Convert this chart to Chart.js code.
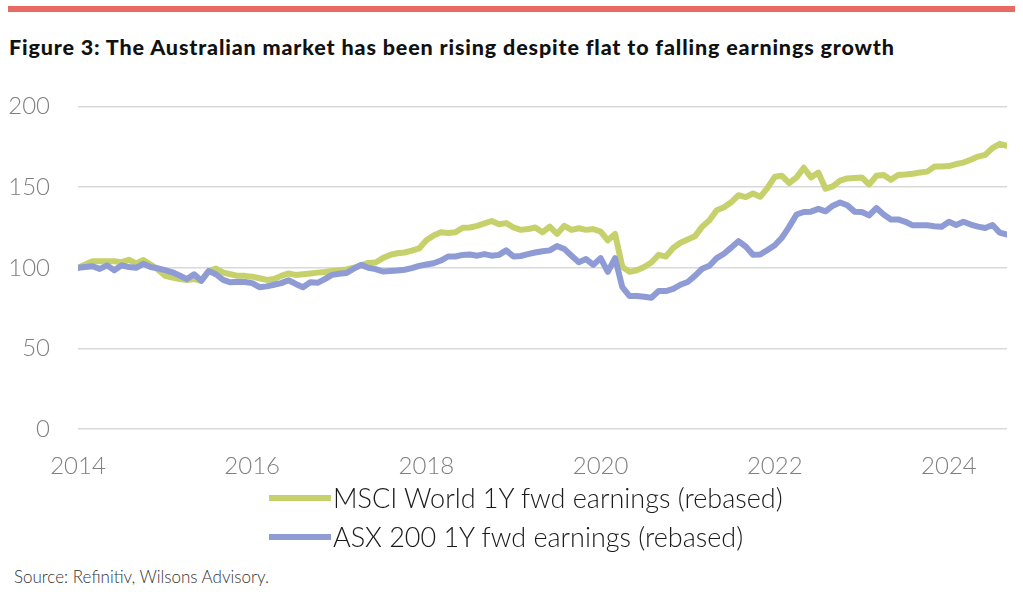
<!DOCTYPE html>
<html>
<head>
<meta charset="utf-8">
<script src="https://cdn.jsdelivr.net/npm/chart.js@4.4.1/dist/chart.umd.min.js"></script>
<style>
  body { margin: 0; width: 1023px; height: 594px; background: #fff; position: relative; overflow: hidden; font-family: Lato, "Noto Sans", sans-serif; }
  .topbar { position: absolute; left: 8px; top: 6px; width: 1007px; height: 6px; background: #e96a63; }
  .title { position: absolute; left: 9px; top: 34px; font-size: 21.5px; font-weight: 900; letter-spacing: 0.85px; color: #111; white-space: nowrap; }
  #myChart { position: absolute; left: 0; top: 64px; }
  .legend { position: absolute; left: 269px; top: 478px; }
  .legend div { height: 39px; display: flex; align-items: center; font-size: 27px; font-weight: 300; color: #1a1a1a; white-space: nowrap; }
  .legend span.sw { display: inline-block; width: 62px; height: 6px; margin-right: 2px; }
  .source { position: absolute; left: 14px; top: 566px; font-size: 17px; font-weight: 300; color: #333; }
</style>
</head>
<body>
<div class="topbar"></div>
<div class="title">Figure 3: The Australian market has been rising despite flat to falling earnings growth</div>
<canvas id="myChart" width="1023" height="434" style="width:1023px;height:434px"></canvas>
<div class="legend" id="legend"></div>
<div class="source">Source: Refinitiv, Wilsons Advisory.</div>
<script>
// monthly, Jan 2014 .. Sep 2024
const startYear = 2014;
const seriesNames = ['MSCI World 1Y fwd earnings (rebased)', 'ASX 200 1Y fwd earnings (rebased)'];
const seriesColors = ['#c6d16c', '#8e9bd5'];

const msciWorld = [
    100, 102, 104, 104, 104, 104, 103.5, 105, 102.7, 104.8, 102, 99,
    95, 94, 93, 92.5, 93, 92, 98, 99.5, 97, 96, 95, 95,
    94.5, 93.5, 92.5, 93, 95, 96.5, 95.6, 96, 96.5, 97, 97.4, 98,
    98.5, 99, 100, 101.5, 103, 103.3, 106, 108, 109, 109.5, 110.6, 112,
    117, 120, 122, 121.5, 122, 124.8, 125, 126, 127.5, 129, 127, 127.7,
    125, 123.5, 124, 125, 122, 125.5, 121, 126, 123.5, 124.5, 123.5, 124,
    122.5, 117, 121, 100.5, 97.5, 98.5, 100.5, 103.3, 108, 107, 112.3, 115.5,
    117.5, 119.5, 125.5, 129.4, 135.6, 137.5, 140.6, 145, 143.8, 146, 144, 149.5,
    156.4, 157, 152.5, 156, 162, 156, 159, 149, 150.5, 154, 155.4, 155.7,
    156, 151.5, 157, 157.5, 154.5, 157.5, 157.8, 158.3, 159, 159.6, 162.7, 162.8,
    163, 164.3, 165.2, 167, 168.9, 170, 174.2, 176.8, 175.6
];

const asx200 = [
    100, 100.5, 101, 99.3, 101.5, 98.5, 101.5, 100.5, 100, 102.5, 100.5, 99.7,
    98.5, 97.2, 95.2, 93, 96, 92, 98, 96, 92.5, 91, 91.3, 91.2,
    90.5, 88, 88.5, 89.5, 90.5, 92.3, 90, 88, 91, 90.7, 93, 95.6,
    96.3, 96.8, 99.5, 101.8, 100, 99.2, 97.7, 98, 98.3, 98.8, 99.8, 101.2,
    102, 102.8, 104.5, 107, 107, 108, 108.2, 107.5, 108.5, 107.5, 108, 110.8,
    107, 107.3, 108.5, 109.5, 110.2, 110.8, 113.5, 111.7, 107.5, 103.5, 105.4, 101.8,
    106, 97.5, 106, 88, 82.5, 82.5, 82, 81.5, 85.6, 85.6, 86.9, 89.5,
    91.2, 95, 99.4, 101.3, 106, 108.7, 112.5, 116.5, 113.2, 108.1, 108.2, 111,
    114, 118.7, 125.5, 133, 134.6, 134.8, 136.5, 135, 138.5, 140.5, 138.7, 134.8,
    134.6, 132.5, 137, 133, 130, 130, 128.5, 126.3, 126.3, 126.3, 125.8, 125.5,
    128.5, 126.5, 128.5, 126.8, 125.5, 124.7, 126.5, 121.8, 120.6
];

const xTicks = [2014, 2016, 2018, 2020, 2022, 2024];
const yTicks = [0, 50, 100, 150, 200];

function toPoints(values) {
    return values.map(function(v, i) { return { x: startYear + i / 12, y: v }; });
}

const lastX = startYear + (msciWorld.length - 1) / 12;

const ctx = document.getElementById("myChart").getContext("2d");
const lineChart = new Chart(ctx, {
    type: 'line',
    data: {
        datasets: [{
            label: seriesNames[0],
            data: toPoints(msciWorld),
            borderColor: seriesColors[0],
            backgroundColor: seriesColors[0],
            borderWidth: 6,
            pointRadius: 0,
            order: 2
        }, {
            label: seriesNames[1],
            data: toPoints(asx200),
            borderColor: seriesColors[1],
            backgroundColor: seriesColors[1],
            borderWidth: 6,
            pointRadius: 0,
            order: 1
        }]
    },
    options: {
        responsive: false,
        animation: false,
        devicePixelRatio: 1,
        layout: { padding: { top: 17, right: 16, bottom: 2, left: 0 } },
        plugins: { legend: { display: false }, tooltip: { enabled: false } },
        elements: { line: { borderJoinStyle: 'round', borderCapStyle: 'round', tension: 0 } },
        scales: {
            x: {
                type: 'linear',
                min: startYear,
                max: lastX,
                afterBuildTicks: function(scale) {
                    scale.ticks = xTicks.map(function(v) { return { value: v }; });
                },
                grid: { display: false },
                border: { display: false },
                ticks: {
                    padding: 15,
                    color: '#808080',
                    font: { family: 'Lato', size: 24, weight: 300 },
                    maxRotation: 0,
                    autoSkip: false,
                    callback: function(v) { return String(v); }
                }
            },
            y: {
                min: yTicks[0],
                max: yTicks[yTicks.length - 1],
                afterBuildTicks: function(scale) {
                    scale.ticks = yTicks.map(function(v) { return { value: v }; });
                },
                afterFit: function(scale) { scale.width = 78; },
                grid: { color: '#d9d9d9', lineWidth: 1.5, drawTicks: false },
                border: { display: false },
                ticks: {
                    padding: 28,
                    color: '#808080',
                    font: { family: 'Lato', size: 24, weight: 300 }
                }
            }
        }
    }
});

// legend rows, left aligned
const legendEl = document.getElementById("legend");
seriesNames.forEach(function(name, i) {
    const row = document.createElement("div");
    row.innerHTML = '<span class="sw" style="background:' + seriesColors[i] + '"></span>' + name;
    legendEl.appendChild(row);
});
</script>
</body>
</html>
